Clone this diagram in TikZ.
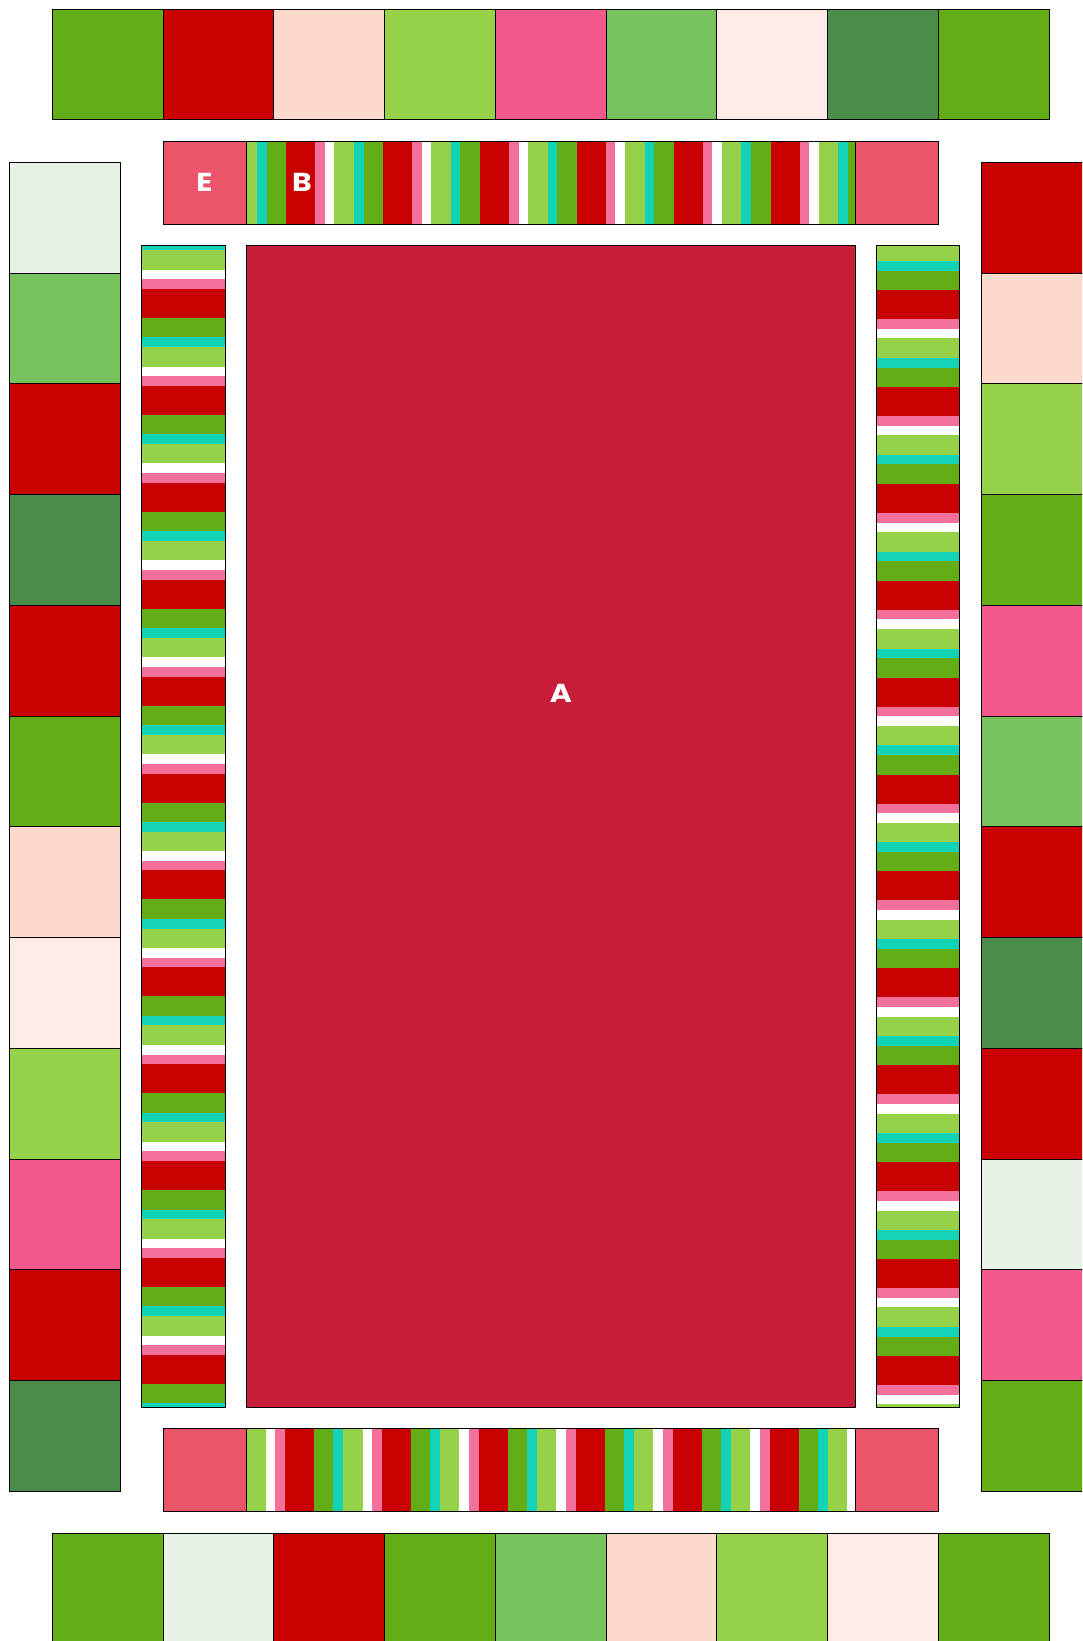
\documentclass[tikz,border=0pt]{standalone}
\usepackage{fontspec}
\newfontfamily\quiltfont{Poppins}[FakeStretch=1.15]
\usepackage{xcolor}
\usepackage{tikz}
\usetikzlibrary{positioning}

\definecolor{qGreen}{RGB}{99,174,22}
\definecolor{qRed}{RGB}{200,0,0}
\definecolor{qPeach}{RGB}{253,217,203}
\definecolor{qLight}{RGB}{150,209,74}
\definecolor{qPink}{RGB}{243,89,138}
\definecolor{qMid}{RGB}{121,195,94}
\definecolor{qBlush}{RGB}{254,235,232}
\definecolor{qDark}{RGB}{74,140,74}
\definecolor{qPale}{RGB}{232,241,230}
\definecolor{qCrimson}{RGB}{198,30,56}
\definecolor{qRose}{RGB}{234,85,105}
\definecolor{qStripePink}{RGB}{242,112,154}
\definecolor{qTeal}{RGB}{19,211,182}

\def\fwdlist{qRed/0/3,qStripePink/3/4,white/4/5,qLight/5/7,qTeal/7/8,qGreen/8/10}
\def\bwdlist{qRed/0/3,qGreen/3/5,qTeal/5/6,qLight/6/8,white/8/9,qStripePink/9/10}

\begin{document}
\begin{tikzpicture}[x=1pt,y=-1pt,
  patch/.style={draw=black,line width=0.9pt},
  tag/.style={text=white,inner sep=0pt,font=\quiltfont\bfseries\fontsize{26}{26}\selectfont}]
  \clip (0,0) rectangle (1082,1641);
  \fill[white] (0,0) rectangle (1082,1641);
  \foreach \c [count=\i from 0] in {qGreen,qRed,qPeach,qLight,qPink,qMid,qBlush,qDark,qGreen}{
    \filldraw[patch,fill=\c] ({52.3+\i*110.75},9) rectangle ++(110.75,110.75);
  }
  \foreach \c [count=\i from 0] in {qGreen,qPale,qRed,qGreen,qMid,qPeach,qLight,qBlush,qGreen}{
    \filldraw[patch,fill=\c] ({52.3+\i*110.75},1533) rectangle ++(110.75,110.75);
  }
  \foreach \c [count=\j from 0] in {qPale,qMid,qRed,qDark,qRed,qGreen,qPeach,qBlush,qLight,qPink,qRed,qDark}{
    \filldraw[patch,fill=\c] (9.3,{162.3+\j*110.75}) rectangle ++(110.75,110.75);
  }
  \foreach \c [count=\j from 0] in {qRed,qPeach,qLight,qGreen,qPink,qMid,qRed,qDark,qRed,qPale,qPink,qGreen}{
    \filldraw[patch,fill=\c] (981,{162.3+\j*110.75}) rectangle ++(110.75,110.75);
  }
  \begin{scope}
    \clip (246,141) rectangle (855,224);
    \foreach \k in {-1,...,5}
      \foreach \c/\lo/\hi in \fwdlist
        \fill[\c] ({286+\k*96.9+\lo*9.69},141) rectangle ({286+\k*96.9+\hi*9.69},224);
  \end{scope}
  \begin{scope}
    \clip (246,1428.7) rectangle (855,1511.7);
    \foreach \k in {-1,...,5}
      \foreach \c/\lo/\hi in \bwdlist
        \fill[\c] ({285+\k*96.9+\lo*9.69},1428.7) rectangle ({285+\k*96.9+\hi*9.69},1511.7);
  \end{scope}
  \begin{scope}
    \clip (141.5,245.3) rectangle (225,1407.3);
    \foreach \k in {-1,...,11}
      \foreach \c/\lo/\hi in \bwdlist
        \fill[\c] (141.5,{289+\k*96.9+\lo*9.69}) rectangle (225,{289+\k*96.9+\hi*9.69});
  \end{scope}
  \begin{scope}
    \clip (876.7,245.3) rectangle (959.7,1407.3);
    \foreach \k in {-1,...,11}
      \foreach \c/\lo/\hi in \fwdlist
        \fill[\c] (876.7,{290+\k*96.9+\lo*9.69}) rectangle (959.7,{290+\k*96.9+\hi*9.69});
  \end{scope}
  \draw[patch] (246,141) rectangle (855,224);
  \draw[patch] (246,1428.7) rectangle (855,1511.7);
  \draw[patch] (141.5,245.3) rectangle (225,1407.3);
  \draw[patch] (876.7,245.3) rectangle (959.7,1407.3);
  \filldraw[patch,fill=qRose] (163,141) rectangle (246,224);
  \filldraw[patch,fill=qRose] (855,141) rectangle (938.3,224);
  \filldraw[patch,fill=qRose] (163,1428.7) rectangle (246,1511.7);
  \filldraw[patch,fill=qRose] (855,1428.7) rectangle (938.3,1511.7);
  \filldraw[patch,fill=qCrimson] (246,245.3) rectangle (855,1407.3);
  \node[tag] (tagE) at (204.5,182.5) {E};
  \node[tag] (tagB) at (302,182.5) {B};
  \node[tag] (tagA) at (561,693.5) {A};
\end{tikzpicture}
\end{document}
